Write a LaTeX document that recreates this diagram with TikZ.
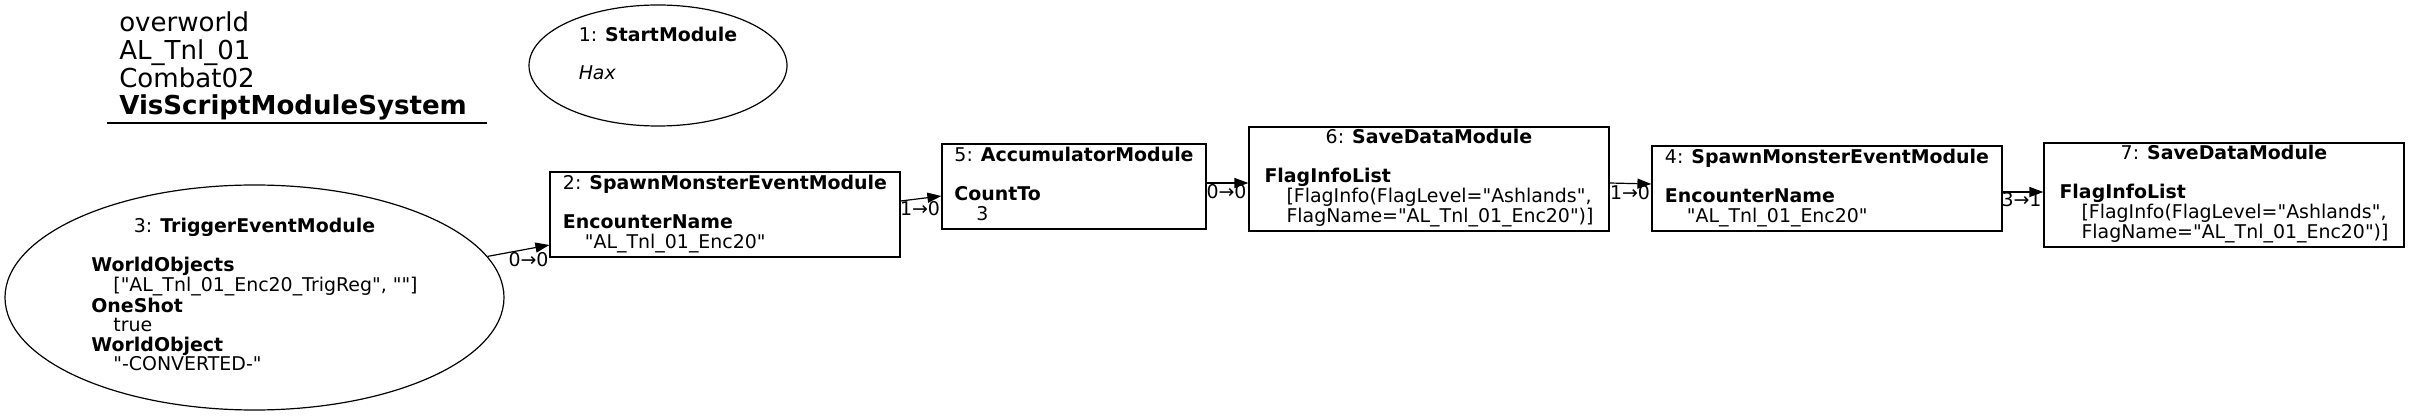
\documentclass[tikz,border=0pt]{standalone}
\usepackage{fontspec}
\setmainfont{DejaVu Sans}[Ligatures=TeXOff]
\usetikzlibrary{arrows.meta,calc,shapes.geometric}
\begin{document}
\begin{tikzpicture}[x=0.75pt,y=-0.75pt,
  every node/.style={font=\fontsize{14.2}{14.25}\selectfont},
  box/.style={draw,line width=0.9pt,rectangle,inner sep=0pt},
  oval/.style={draw,line width=0.9pt,ellipse,inner sep=0pt},
  conn/.style={line width=0.9pt,-{Triangle[length=10.5pt,width=7.5pt]}},
  elabel/.style={inner sep=0pt}]
\useasboundingbox (0,0) rectangle (2409,416);

% title
\node[anchor=base west,inner sep=0pt,font=\fontsize{19.55}{19.5}\selectfont] (title) at (119,32)
  {\begin{tabular}[t]{@{}l@{}}overworld\\AL\_Tnl\_01\\Combat02\\\textbf{VisScriptModuleSystem}\end{tabular}};
\draw[line width=0.9pt] (107,123) -- (487,123);

% 1: StartModule
\node[oval,minimum width=193.5pt,minimum height=90.75pt] (n1) at (658,65.5)
  {\begin{tabular}{@{}l@{}}1: \textbf{StartModule}\\ \\ \textit{Hax}\\ \\\end{tabular}};

% 3: TriggerEventModule
\node[oval,minimum width=374.25pt,minimum height=168.75pt] (n3) at (254.5,297.5)
  {\begin{tabular}{@{}l@{}}\multicolumn{1}{@{}c@{}}{3: \textbf{TriggerEventModule}}\\ \\
  \textbf{WorldObjects}\\ \hspace*{16.5pt}["AL\_Tnl\_01\_Enc20\_TrigReg", ""]\\
  \textbf{OneShot}\\ \hspace*{16.5pt}true\\
  \textbf{WorldObject}\\ \hspace*{16.5pt}"-CONVERTED-"\end{tabular}};

% 2: SpawnMonsterEventModule
\node[box,minimum width=262.5pt,minimum height=63.75pt] (n2) at (725,214.5)
  {\begin{tabular}{@{}l@{}}2: \textbf{SpawnMonsterEventModule}\\ \\
  \textbf{EncounterName}\\ \hspace*{16.5pt}"AL\_Tnl\_01\_Enc20"\end{tabular}};

% 5: AccumulatorModule
\node[box,minimum width=198pt,minimum height=63.75pt] (n5) at (1074,186.5)
  {\begin{tabular}{@{}l@{}}5: \textbf{AccumulatorModule}\\ \\
  \textbf{CountTo}\\ \hspace*{16.5pt}3\end{tabular}};

% 6: SaveDataModule
\node[box,minimum width=270pt,minimum height=78pt] (n6) at (1429,179)
  {\begin{tabular}{@{}l@{}}\multicolumn{1}{@{}c@{}}{6: \textbf{SaveDataModule}}\\ \\
  \textbf{FlagInfoList}\\ \hspace*{16.5pt}[FlagInfo(FlagLevel="Ashlands",\\
  \hspace*{16.5pt}FlagName="AL\_Tnl\_01\_Enc20")]\end{tabular}};

% 4: SpawnMonsterEventModule
\node[box,minimum width=262.5pt,minimum height=63.75pt] (n4) at (1827,188.5)
  {\begin{tabular}{@{}l@{}}4: \textbf{SpawnMonsterEventModule}\\ \\
  \textbf{EncounterName}\\ \hspace*{16.5pt}"AL\_Tnl\_01\_Enc20"\end{tabular}};

% 7: SaveDataModule
\node[box,minimum width=270pt,minimum height=78pt] (n7) at (2224,195)
  {\begin{tabular}{@{}l@{}}\multicolumn{1}{@{}c@{}}{7: \textbf{SaveDataModule}}\\ \\
  \textbf{FlagInfoList}\\ \hspace*{16.5pt}[FlagInfo(FlagLevel="Ashlands",\\
  \hspace*{16.5pt}FlagName="AL\_Tnl\_01\_Enc20")]\end{tabular}};

% connectors
\draw[conn] (n3.10) -- ($(n2.west)+(0,30.5)$);
\draw[conn] ($(n2.east)+(0,-13.5)$) -- ($(n5.west)+(0,9.5)$);
\draw[conn] ($(n5.east)+(0,-3.5)$) -- ($(n6.west)+(0,4)$);
\draw[conn] ($(n6.east)+(0,4)$) -- ($(n4.west)+(0,-4.5)$);
\draw[conn] ($(n4.east)+(0,3.5)$) -- ($(n7.west)+(0,-3)$);

% connector labels
\node[elabel] (l32) at (528.5,259.5) {0→0};
\node[elabel] (l25) at (920,208.5) {1→0};
\node[elabel] (l56) at (1226.5,192) {0→0};
\node[elabel] (l64) at (1630,192.5) {1→0};
\node[elabel] (l47) at (2021.5,200) {3→1};
\end{tikzpicture}
\end{document}
